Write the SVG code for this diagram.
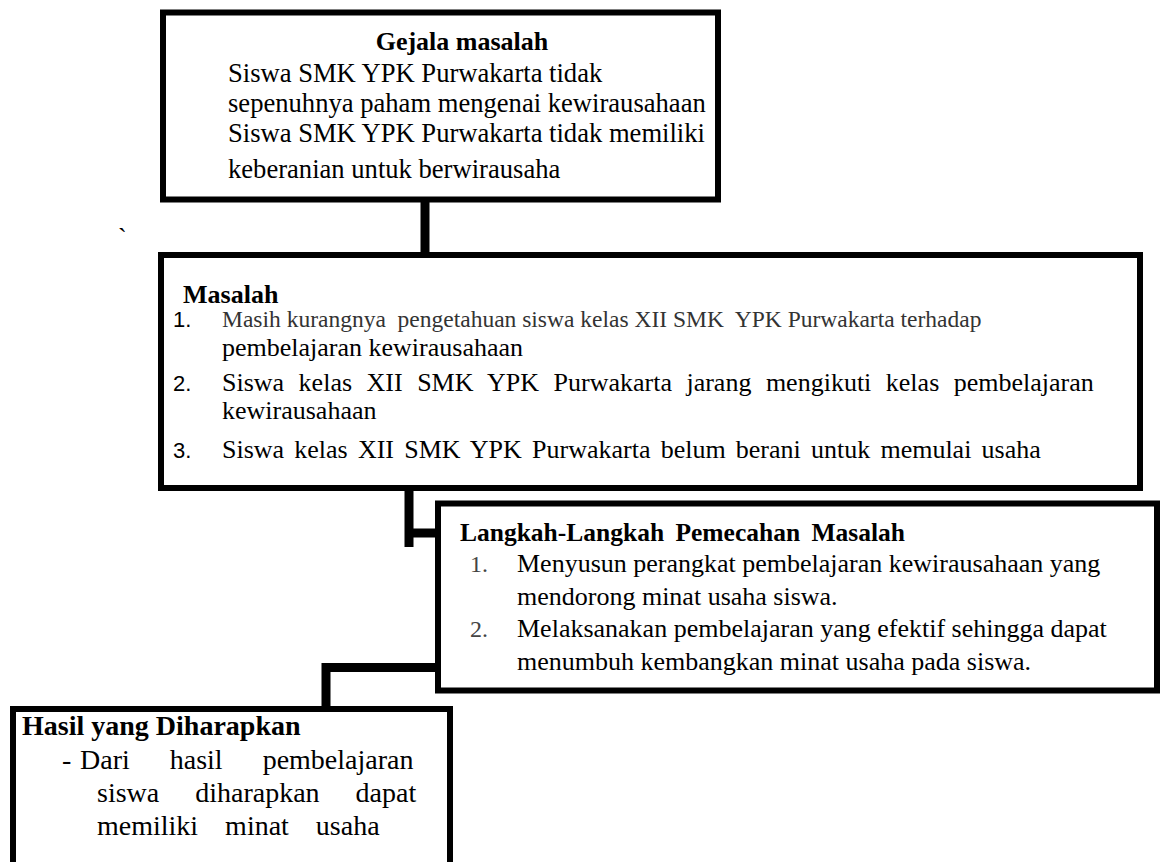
<svg xmlns="http://www.w3.org/2000/svg" width="1160" height="862" viewBox="0 0 1160 862">
<style>
.box{fill:#fff;stroke:#000;stroke-width:6}
.t{font-family:"Liberation Serif","Times New Roman",serif;font-size:26px;fill:#000}
.b{font-weight:bold}
.n{font-family:"Liberation Sans",Arial,sans-serif;font-size:22px;fill:#000}
.g{fill:#444}
.h{font-size:28px}
.conn{fill:none;stroke:#000;stroke-width:9;stroke-linecap:butt;stroke-linejoin:miter}
</style>
<rect width="1160" height="862" fill="#fff"/>
<g id="connectors">
<path class="conn" d="M425,200 V255"/>
<path class="conn" d="M409,482 V547 M409,533 H438"/>
<path class="conn" d="M326,667.5 H438 M326,663 V709"/>
</g>
<g id="gejala">
<rect class="box" x="163" y="12.5" width="555" height="187"/>
<text class="t b" x="462" y="50" text-anchor="middle">Gejala masalah</text>
<text class="t" x="228" y="82" style="font-size:26.6px">Siswa SMK YPK Purwakarta tidak</text>
<text class="t" x="228" y="112" style="font-size:26.6px">sepenuhnya paham mengenai kewirausahaan</text>
<text class="t" x="228" y="142" style="font-size:26.6px">Siswa SMK YPK Purwakarta tidak memiliki</text>
<text class="t" x="228" y="178" style="font-size:26.6px">keberanian untuk berwirausaha</text>
</g>
<text class="t" x="118" y="246">`</text>
<g id="masalah">
<rect class="box" x="161" y="255" width="979" height="233"/>
<text class="t b" x="183" y="303">Masalah</text>
<text class="n" x="173" y="327">1.</text>
<text class="t" x="222" y="327" style="font-size:23.5px;fill:#333" xml:space="preserve">Masih kurangnya  pengetahuan siswa kelas XII SMK  YPK Purwakarta terhadap</text>
<text class="t" x="222" y="356">pembelajaran kewirausahaan</text>
<text class="n" x="173" y="391">2.</text>
<text class="t" x="222" y="391" word-spacing="8">Siswa kelas XII SMK YPK Purwakarta jarang mengikuti kelas pembelajaran</text>
<text class="t" x="222" y="419">kewirausahaan</text>
<text class="n" x="173" y="458">3.</text>
<text class="t" x="222" y="458" word-spacing="3.7">Siswa kelas XII SMK YPK Purwakarta belum berani untuk memulai usaha</text>
</g>
<g id="langkah">
<rect class="box" x="438" y="503.5" width="719" height="187"/>
<text class="t b" x="460" y="541" style="font-size:25.5px" word-spacing="5">Langkah-Langkah Pemecahan Masalah</text>
<text class="t g" x="470" y="572" style="font-size:24px">1.</text>
<text class="t" x="517" y="572">Menyusun perangkat pembelajaran kewirausahaan yang</text>
<text class="t" x="517" y="605">mendorong minat usaha siswa.</text>
<text class="t g" x="470" y="637" style="font-size:24px">2.</text>
<text class="t" x="517" y="637">Melaksanakan pembelajaran yang efektif sehingga dapat</text>
<text class="t" x="517" y="670">menumbuh kembangkan minat usaha pada siswa.</text>
</g>
<g id="hasil">
<rect class="box" x="13" y="709" width="437" height="170"/>
<text class="t b h" x="22" y="735">Hasil yang Diharapkan</text>
<text class="t h" x="62" y="769">-</text>
<text class="t h" x="80" y="769" word-spacing="33">Dari hasil pembelajaran</text>
<text class="t h" x="97" y="802" word-spacing="29">siswa diharapkan dapat</text>
<text class="t h" x="97" y="835" word-spacing="20">memiliki minat usaha</text>
</g>
</svg>
